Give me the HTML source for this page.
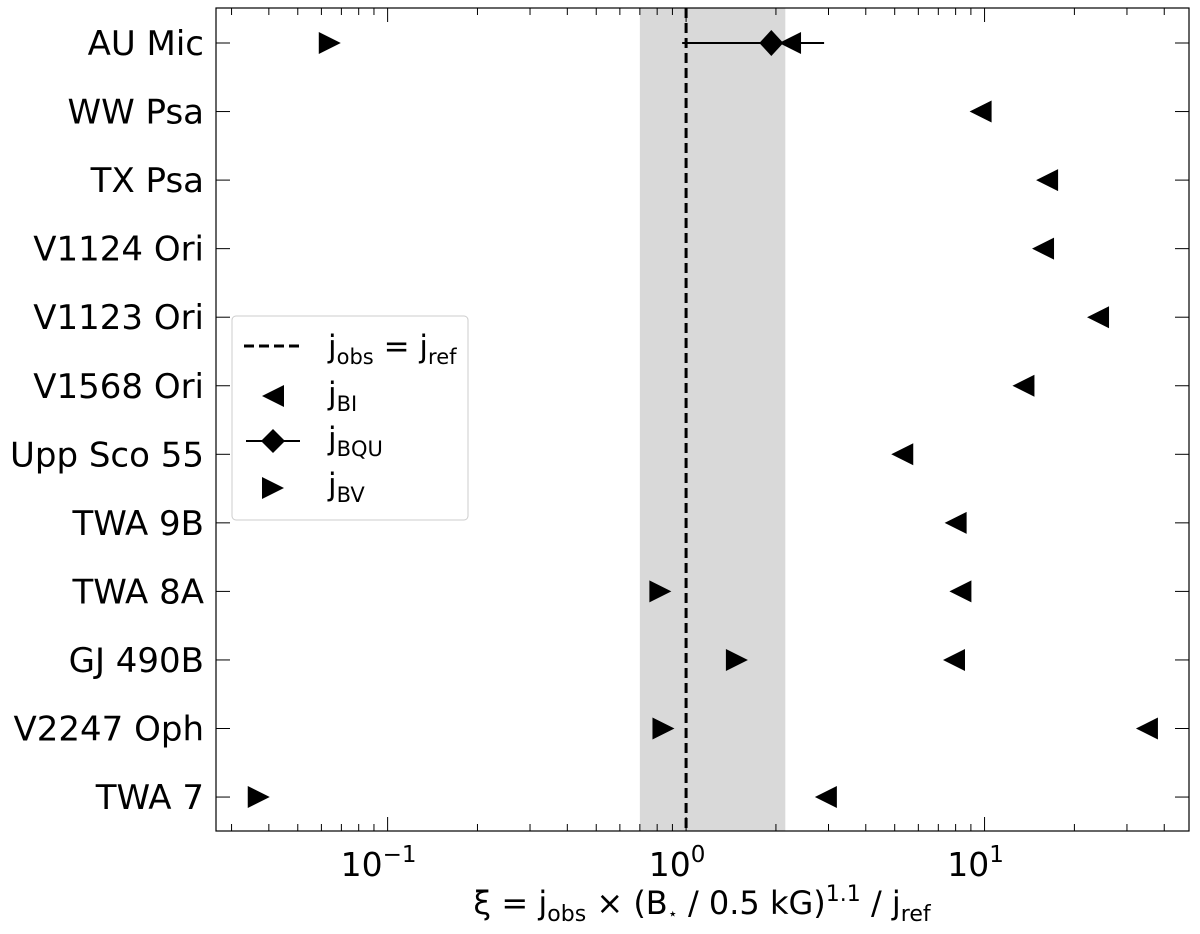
<!DOCTYPE html>
<html><head><meta charset="utf-8"><style>
body{margin:0;background:#fff}
svg{display:block;font-family:"DejaVu Sans","Liberation Sans",sans-serif}
</style></head><body>
<svg id="chart" width="1200" height="934" viewBox="0 0 1200 934">
<rect x="640" y="8" width="145" height="823" fill="#d9d9d9" id="band"/>
<g id="marks"></g>
<rect x="216" y="8" width="973" height="823" fill="none" stroke="#000" stroke-width="1.2"/>
<text x="702" y="914" font-size="32" text-anchor="middle">ξ = j<tspan font-size="22" dy="7">obs</tspan><tspan dy="-7"> × (B</tspan><tspan font-size="16" dy="5">⋆</tspan><tspan dy="-5"> / 0.5 kG)</tspan><tspan font-size="22" dy="-13">1.1</tspan><tspan dy="13"> / j</tspan><tspan font-size="22" dy="7">ref</tspan></text>
<g>
<rect x="232" y="316" width="236" height="204" rx="4" fill="#fff" fill-opacity="0.85" stroke="#ccc"/>
<line x1="244" y1="346" x2="302" y2="346" stroke="#000" stroke-width="3" stroke-dasharray="10,5"/>
<text x="328" y="357" font-size="31">j<tspan font-size="21" dy="7">obs</tspan><tspan dy="-7"> = j</tspan><tspan font-size="21" dy="7">ref</tspan></text>
<polygon points="262,396 284,385 284,407" fill="#000"/>
<text x="328" y="404" font-size="31">j<tspan font-size="21" dy="7">BI</tspan></text>
<line x1="246" y1="441" x2="300" y2="441" stroke="#000" stroke-width="2"/>
<polygon points="273,429 285,441 273,453 261,441" fill="#000"/>
<text x="328" y="449" font-size="31">j<tspan font-size="21" dy="7">BQU</tspan></text>
<polygon points="284,488 262,477 262,499" fill="#000"/>
<text x="328" y="495" font-size="31">j<tspan font-size="21" dy="7">BV</tspan></text>
</g>
</svg>
<script>
const stars=["AU Mic","WW Psa","TX Psa","V1124 Ori","V1123 Ori","V1568 Ori","Upp Sco 55","TWA 9B","TWA 8A","GJ 490B","V2247 Oph","TWA 7"];
const jBI=[2.23,9.7,16.2,15.7,24,13.5,5.3,8.0,8.3,7.9,35,2.94];
const jBV=[0.064,null,null,null,null,null,null,null,0.82,1.48,0.84,0.037];
const jBQU=[1.93];
const jBQUlo=[0.97];
const jBQUhi=[2.9];
const bandRange=[0.70,2.15];
const xTicks=[0.1,1,10];
const xTickLabels=["10","10","10"];
const xTickExp=["−1","0","1"];
const NS="http://www.w3.org/2000/svg";
const L=216,R=1189,T=8,B=831,lmin=-1.575,lmax=1.685;
const xs=v=>L+(Math.log10(v)-lmin)/(lmax-lmin)*(R-L);
const ys=i=>43+i*68.55;
const svg=document.getElementById('chart');
const g=document.getElementById('marks');
function mk(t,a,p){const e=document.createElementNS(NS,t);for(const k in a)e.setAttribute(k,a[k]);(p||g).appendChild(e);return e;}
const band=document.getElementById('band');
band.setAttribute('x',xs(bandRange[0]));band.setAttribute('width',xs(bandRange[1])-xs(bandRange[0]));
let l=mk('line',{x1:xs(1),x2:xs(1),y1:T,y2:B,stroke:'#000','stroke-width':3,'stroke-dasharray':'10,5'});


for(let d=-2;d<=1;d++)for(let m=1;m<10;m++){const v=m*Math.pow(10,d);const lv=Math.log10(v);if(lv<lmin||lv>lmax)continue;const x=xs(v);const len=m===1?14:7;
mk('line',{x1:x,x2:x,y1:B,y2:B-len,stroke:'#000','stroke-width':1});mk('line',{x1:x,x2:x,y1:T,y2:T+len,stroke:'#000','stroke-width':1});}
xTicks.forEach((v,i)=>{const t=mk('text',{x:xs(v)-9,y:876,'font-size':33,'text-anchor':'middle'},svg);t.textContent=xTickLabels[i];
const s=mk('tspan',{'font-size':23,dy:-14},t);s.textContent=xTickExp[i];

});
stars.forEach((s,i)=>{const y=ys(i);
mk('line',{x1:L,x2:L+14,y1:y,y2:y,stroke:'#000'});mk('line',{x1:R,x2:R-14,y1:y,y2:y,stroke:'#000'});
const t=mk('text',{x:204,y:y+12,'font-size':34,'text-anchor':'end'},svg);t.textContent=s;


if(jBI[i]!=null){const x=xs(jBI[i]);const p=mk('polygon',{points:`${x-11},${y} ${x+11},${y-11} ${x+11},${y+11}`,fill:'#000'});

}
if(jBV[i]!=null){const x=xs(jBV[i]);const p=mk('polygon',{points:`${x+11},${y} ${x-11},${y-11} ${x-11},${y+11}`,fill:'#000'});

}
if(jBQU[i]!=null){const x=xs(jBQU[i]);
const e=mk('line',{x1:xs(jBQUlo[i]),x2:xs(jBQUhi[i]),y1:y,y2:y,stroke:'#000','stroke-width':2});


const p=mk('polygon',{points:`${x},${y-13} ${x+12},${y} ${x},${y+13} ${x-12},${y}`,fill:'#000'});

}
});
</script>
</body></html>
